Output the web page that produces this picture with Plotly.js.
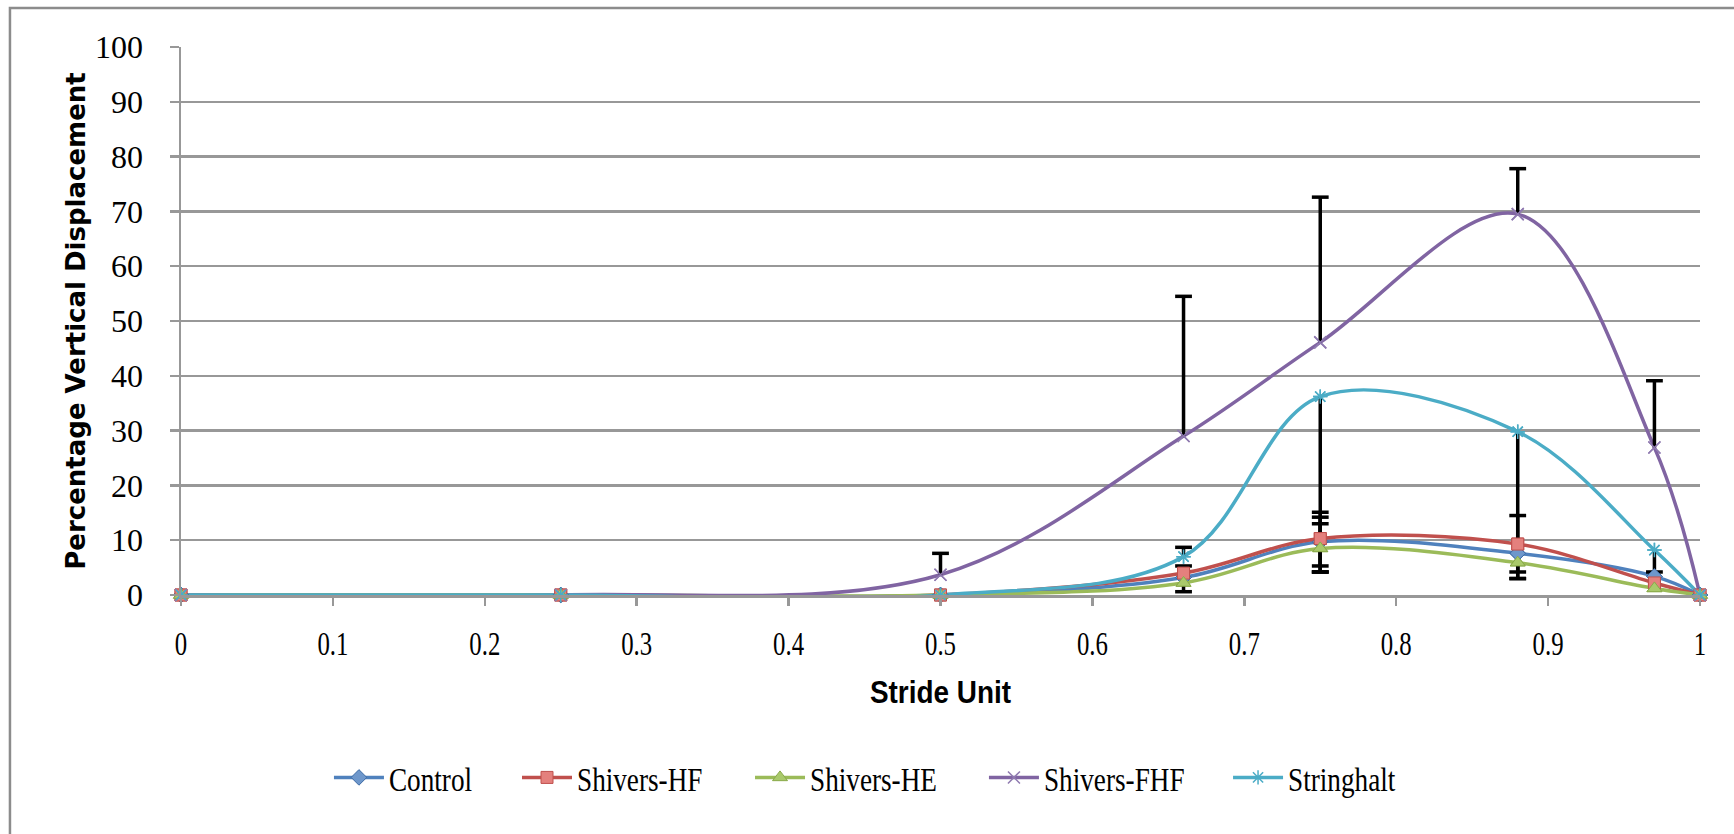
<!DOCTYPE html>
<html>
<head>
<meta charset="utf-8">
<script src="https://cdn.plot.ly/plotly-3.0.1.min.js"></script>
<style>
html,body{margin:0;padding:0;background:#ffffff;}
#chart{width:1734px;height:834px;}
</style>
</head>
<body>
<div id="chart"></div>
<script>
// ---- data ----
const strideUnit = [0, 0.25, 0.5, 0.66, 0.75, 0.88, 0.97, 1];
const xTickVals = [0, 0.1, 0.2, 0.3, 0.4, 0.5, 0.6, 0.7, 0.8, 0.9, 1];
const xTickText = ['0', '0.1', '0.2', '0.3', '0.4', '0.5', '0.6', '0.7', '0.8', '0.9', '1'];
const yTickVals = [0, 10, 20, 30, 40, 50, 60, 70, 80, 90, 100];
const seriesNames = ['Control', 'Shivers-HF', 'Shivers-HE', 'Shivers-FHF', 'Stringhalt'];

const control    = [0, 0, 0, 3.2, 9.7, 7.6, 3.4, 0];
const shiversHF  = [0, 0, 0, 4.0, 10.3, 9.3, 2.2, 0];
const shiversHE  = [0, 0, 0, 2.2, 8.5, 5.9, 1.2, 0];
const shiversFHF = [0, 0, 3.7, 29.0, 46.1, 69.5, 26.9, 0];
const stringhalt = [0, 0, 0, 7.0, 36.2, 29.8, 8.2, 0];

const controlErrPlus     = [0, 0, 0, 2.1, 4.5, 0, 0, 0];
const controlErrMinus    = [0, 0, 0, 0, 5.5, 4.6, 0, 0];
const shiversHFErrPlus   = [0, 0, 0, 0, 4.8, 5.2, 0, 0];
const shiversHFErrMinus  = [0, 0, 0, 3.4, 5.0, 5.1, 0, 0];
const shiversHEErrPlus   = [0, 0, 0, 0, 4.5, 0, 0, 0];
const shiversHEErrMinus  = [0, 0, 0, 0, 4.3, 0, 0, 0];
const shiversFHFErrPlus  = [0, 0, 3.9, 25.5, 26.5, 8.3, 12.2, 0];
const shiversFHFErrMinus = [0, 0, 0, 0, 0, 0, 0, 0];
const stringhaltErrPlus  = [0, 0, 0, 1.7, 0, 0, 0, 0];
const stringhaltErrMinus = [0, 0, 0, 0, 32.0, 26.8, 4.0, 0];

// ---- styling ----
const series = [
  {name: seriesNames[0], y: control,    plus: controlErrPlus,    minus: controlErrMinus, legend: 'legend',
   color: '#4F81BD', marker: {symbol: 'diamond', size: 12, color: '#6E97CB', line: {color: '#3D6CA6', width: 1}}},
  {name: seriesNames[1], y: shiversHF,  plus: shiversHFErrPlus,  minus: shiversHFErrMinus, legend: 'legend2',
   color: '#C0504D', marker: {symbol: 'square', size: 12, color: '#E4807D', line: {color: '#C0504D', width: 1}}},
  {name: seriesNames[2], y: shiversHE,  plus: shiversHEErrPlus,  minus: shiversHEErrMinus, legend: 'legend3',
   color: '#9BBB59', marker: {symbol: 'triangle-up', size: 13, color: '#A9C96B', line: {color: '#8AAA4A', width: 1}}},
  {name: seriesNames[3], y: shiversFHF, plus: shiversFHFErrPlus, minus: shiversFHFErrMinus, legend: 'legend4',
   color: '#8064A2', marker: {symbol: 'x-thin', size: 12, color: '#8064A2', line: {color: '#8F7AB0', width: 1.5}}},
  {name: seriesNames[4], y: stringhalt, plus: stringhaltErrPlus, minus: stringhaltErrMinus, legend: 'legend5',
   color: '#4BACC6', marker: {symbol: 'asterisk-open', size: 12, color: '#4BACC6', line: {color: '#4BACC6', width: 1.5}}}
];

const lineTraces = series.map(s => ({
  type: 'scatter', mode: 'lines+markers', name: s.name, legend: s.legend,
  x: strideUnit, y: s.y,
  line: {color: s.color, width: 3.5, shape: 'spline', smoothing: 1},
  marker: s.marker, cliponaxis: false, hoverinfo: 'x+y+name'
}));

const errTraces = [];
series.forEach(s => {
  const sx = [], sy = [], cx = [], cy = [];
  strideUnit.forEach((xv, i) => {
    const p = s.plus[i], m = s.minus[i];
    if (p > 0 || m > 0) {
      const top = s.y[i] + p, bot = s.y[i] - m;
      sx.push(xv, xv, null); sy.push(bot, top, null);
      if (p > 0) { cx.push(xv); cy.push(top); }
      if (m > 0) { cx.push(xv); cy.push(bot); }
    }
  });
  errTraces.push({type: 'scatter', mode: 'lines', x: sx, y: sy, showlegend: false, hoverinfo: 'skip',
    line: {color: '#000000', width: 3.5}, cliponaxis: false});
  errTraces.push({type: 'scatter', mode: 'markers', x: cx, y: cy, showlegend: false, hoverinfo: 'skip',
    marker: {symbol: 'line-ew', size: 12, line: {color: '#000000', width: 3.5}}, cliponaxis: false});
});

const markerTraces = series.map(s => ({
  type: 'scatter', mode: 'markers', name: s.name, showlegend: false,
  x: strideUnit, y: s.y, marker: s.marker, cliponaxis: false, hoverinfo: 'skip'
}));

const gridGray = '#989898';
const legendFont = {family: 'Liberation Serif, serif', size: 34, color: '#000000'};
const legendBase = {orientation: 'h', xanchor: 'left', y: -0.3336, yanchor: 'middle',
  font: legendFont, itemwidth: 50, bgcolor: 'rgba(0,0,0,0)'};
const legendX = [0.0974, 0.2212, 0.3746, 0.5286, 0.6893];

const layout = {
  width: 1734, height: 834,
  margin: {l: 181, r: 34, t: 47, b: 239, pad: 0},
  paper_bgcolor: '#ffffff', plot_bgcolor: '#ffffff',
  showlegend: true,
  xaxis: {
    range: [0, 1], tickvals: xTickVals, ticktext: xTickText,
    showgrid: false, zeroline: false,
    showline: true, linecolor: gridGray, linewidth: 2.5,
    ticks: 'outside', ticklen: 8, tickwidth: 2.5, tickcolor: gridGray,
    ticklabelstandoff: 9,
    tickfont: {family: 'Liberation Serif, serif', size: 34, color: '#000000'},
    title: {text: 'Stride Unit', standoff: 20,
      font: {family: 'Liberation Sans, sans-serif', size: 31, color: '#000000', weight: 'bold'}}
  },
  yaxis: {
    range: [0, 100], tickvals: yTickVals,
    showgrid: true, gridcolor: gridGray, gridwidth: 2.5, zeroline: false,
    showline: true, linecolor: gridGray, linewidth: 2.5,
    ticks: 'outside', ticklen: 9, tickwidth: 2.5, tickcolor: gridGray,
    ticklabelstandoff: 20,
    tickfont: {family: 'Liberation Serif, serif', size: 32, color: '#000000'},
    title: {text: 'Percentage Vertical Displacement', standoff: 2,
      font: {family: 'DejaVu Sans, sans-serif', size: 26, color: '#000000', weight: 'bold'}}
  },
  legend:  Object.assign({}, legendBase, {x: legendX[0]}),
  legend2: Object.assign({}, legendBase, {x: legendX[1]}),
  legend3: Object.assign({}, legendBase, {x: legendX[2]}),
  legend4: Object.assign({}, legendBase, {x: legendX[3]}),
  legend5: Object.assign({}, legendBase, {x: legendX[4]}),
  shapes: [{
    type: 'rect', xref: 'paper', yref: 'paper',
    x0: -0.1126, x1: 1.05, y0: -0.46, y1: 1.0712,
    line: {color: '#8c8c8c', width: 2.5}, fillcolor: 'rgba(0,0,0,0)', layer: 'below'
  }]
};

// condense horizontal texts to the narrow look of the reference
function squeezeEl(t, f) {
  if (t.getAttribute('data-sq') === String(f) && t.getAttribute('data-txt') === t.textContent &&
      t.getAttribute('textLength')) return;
  t.removeAttribute('textLength');
  t.removeAttribute('lengthAdjust');
  var w = 0;
  try { w = t.getComputedTextLength(); } catch (e) { w = 0; }
  if (!(w > 0)) {
    try { w = t.getBBox().width; } catch (e) { w = 0; }
  }
  if (w > 0) {
    t.setAttribute('textLength', (w * f).toFixed(1));
    t.setAttribute('lengthAdjust', 'spacingAndGlyphs');
    t.setAttribute('data-sq', String(f));
    t.setAttribute('data-txt', t.textContent);
  }
}
function squeezeAll() {
  document.querySelectorAll('#chart text').forEach(function (t) {
    var txt = (t.textContent || '').trim();
    var cls = t.getAttribute('class') || '';
    if (seriesNames.indexOf(txt) >= 0) {
      squeezeEl(t, 0.8);
    } else if (cls.indexOf('xtitle') >= 0) {
      squeezeEl(t, 0.9);
    } else if (t.closest('.xtick')) {
      squeezeEl(t, 0.73);
    }
  });
}

const gd = document.getElementById('chart');
const obs = new MutationObserver(function () { squeezeAll(); });
obs.observe(gd, {childList: true, subtree: true, characterData: true});

Plotly.newPlot(gd, lineTraces.concat(errTraces, markerTraces), layout, {staticPlot: true, displayModeBar: false})
  .then(function () {
    squeezeAll();
    gd.on('plotly_afterplot', squeezeAll);
    [0, 30, 100, 250, 500, 1000].forEach(function (ms) { setTimeout(squeezeAll, ms); });
  });
</script>
</body>
</html>
